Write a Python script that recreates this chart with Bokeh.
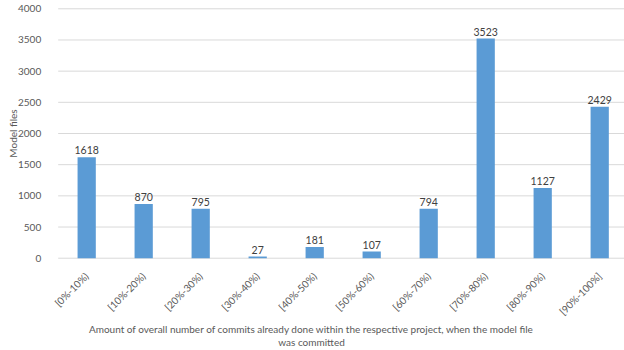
from bokeh.plotting import figure
from bokeh.models import Range1d, FixedTicker, Label
from bokeh.core.properties import value
from bokeh.embed import file_html
from bokeh.resources import INLINE
import math

buckets = ["[0%-10%)", "[10%-20%)", "[20%-30%)", "[30%-40%)", "[40%-50%)",
           "[50%-60%)", "[60%-70%)", "[70%-80%)", "[80%-90%)", "[90%-100%]"]
model_files = [1618, 870, 795, 27, 181, 107, 794, 3523, 1127, 2429]
y_ticks = [0, 500, 1000, 1500, 2000, 2500, 3000, 3500, 4000]

FONT = "Lato"
SIZE = "10px"
TEXT = "#595959"
BAR = "#5B9BD5"
GRID = "#D9D9D9"

W, H = 624, 350
xs = list(range(len(buckets)))

# The frame covers the whole canvas; axes sit at fixed data locations so
# that the titles can be placed anywhere on the chart.
X0, X1 = -1.512, 9.435
Y0, Y1 = -1480, 4133
p = figure(width=W, height=H, output_backend="svg", toolbar_location=None,
           x_range=Range1d(X0, X1), y_range=Range1d(Y0, Y1),
           min_border=0)
p.outline_line_color = None
p.background_fill_color = "white"
p.border_fill_color = "white"
p.xgrid.grid_line_color = None
p.ygrid.grid_line_color = None

# horizontal gridlines across the plotting area
p.segment(x0=-0.5, x1=X1, y0=y_ticks, y1=y_ticks, line_color=GRID, line_width=1)

p.vbar(x=xs, top=model_files, width=0.32, fill_color=BAR, line_color=None)
p.text(x=xs, y=model_files, text=[str(v) for v in model_files],
       text_align="center", text_baseline="bottom", y_offset=-3,
       text_font=value(FONT), text_font_size="10.5px", text_color="#404040")

# y axis
p.yaxis.fixed_location = -0.5
p.yaxis.ticker = FixedTicker(ticks=y_ticks)
p.yaxis.axis_line_color = None
p.yaxis.major_tick_line_color = None
p.yaxis.minor_tick_line_color = None
p.yaxis.major_label_text_font = FONT
p.yaxis.major_label_text_font_size = SIZE
p.yaxis.major_label_text_color = TEXT
p.yaxis.major_label_standoff = 11

# x axis with rotated bucket labels
p.xaxis.fixed_location = 0
p.xaxis.ticker = FixedTicker(ticks=xs)
p.xaxis.major_label_overrides = {i: b for i, b in enumerate(buckets)}
p.xaxis.major_label_orientation = math.pi / 4
p.xaxis.axis_line_color = None
p.xaxis.major_tick_line_color = None
p.xaxis.minor_tick_line_color = None
p.xaxis.major_label_text_font = FONT
p.xaxis.major_label_text_font_size = SIZE
p.xaxis.major_label_text_color = TEXT
p.xaxis.major_label_standoff = 10

# axis titles
p.add_layout(Label(x=12, y=H - 133, x_units="screen", y_units="screen",
                   text="Model files", angle=math.pi / 2, text_align="center",
                   text_baseline="middle", text_font=FONT, text_font_size=SIZE,
                   text_color=TEXT))
title_lines = ["Amount of overall number of commits already done within the respective project, when the model file",
               "was committed"]
for i, line in enumerate(title_lines):
    p.add_layout(Label(x=311, y=H - 328 - 13 * i, x_units="screen", y_units="screen",
                       text=line, text_align="center", text_baseline="middle",
                       text_font=FONT, text_font_size=SIZE, text_color=TEXT))

open("out.html", "w").write(file_html(p, INLINE))
